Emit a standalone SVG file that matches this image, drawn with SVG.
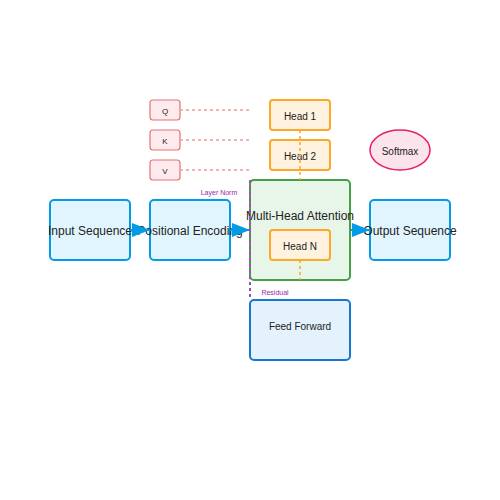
<svg xmlns="http://www.w3.org/2000/svg" width="500" height="500" viewBox="0 0 500 500">
<defs>
<style>
text{font-family:"Liberation Sans",Arial,sans-serif;fill:#222;text-anchor:middle;dominant-baseline:middle}
.io{fill:#e1f5fe;stroke:#039be5;stroke-width:2}
.mha{fill:#e8f5e9;stroke:#43a047;stroke-width:2}
.head{fill:#fff3e0;stroke:#ffa726;stroke-width:2}
.ff{fill:#e3f2fd;stroke:#1976d2;stroke-width:2}
.sm{fill:#fce4ec;stroke:#e91e63;stroke-width:1.5}
.qkv{fill:#ffebee;stroke:#e57373;stroke-width:1.2}
.big{font-size:12px}
.mid{font-size:10px}
.small{font-size:8px}
.lbl{font-size:7px;fill:#9c27b0}
.arr{stroke:#039be5;stroke-width:2;fill:none;marker-end:url(#ah)}
.dq{stroke:#ef9a9a;stroke-width:1.5;stroke-dasharray:3,3;fill:none}
.dh{stroke:#ffa726;stroke-width:1.5;stroke-dasharray:3,3;fill:none}
.dp{stroke:#ab47bc;stroke-width:2;stroke-dasharray:3,3;fill:none}
</style>
<marker id="ah" markerUnits="userSpaceOnUse" markerWidth="18" markerHeight="14" refX="18" refY="7" orient="auto">
<path d="M0,0 L18,7 L0,14 z" fill="#039be5"/>
</marker>
</defs>
<g id="input"><rect class="io" x="50" y="200" width="80" height="60" rx="4"/><text class="big" x="90" y="232">Input Sequence</text></g>
<g id="posenc"><rect class="io" x="150" y="200" width="80" height="60" rx="4"/><text class="big" x="190" y="232">Positional Encoding</text></g>
<g id="mha"><rect class="mha" x="250" y="180" width="100" height="100" rx="4"/><text class="big" x="300" y="217">Multi-Head Attention</text></g>
<g id="head1"><rect class="head" x="270" y="100" width="60" height="30" rx="3"/><text class="mid" x="300" y="117">Head 1</text></g>
<g id="head2"><rect class="head" x="270" y="140" width="60" height="30" rx="3"/><text class="mid" x="300" y="157">Head 2</text></g>
<g id="headn"><rect class="head" x="270" y="230" width="60" height="30" rx="3"/><text class="mid" x="300" y="247">Head N</text></g>
<g id="output"><rect class="io" x="370" y="200" width="80" height="60" rx="4"/><text class="big" x="410" y="232">Output Sequence</text></g>
<g id="ff"><rect class="ff" x="250" y="300" width="100" height="60" rx="4"/><text class="mid" x="300" y="327">Feed Forward</text></g>
<g id="softmax"><ellipse class="sm" cx="400" cy="150" rx="30" ry="20"/><text class="mid" x="400" y="152">Softmax</text></g>
<g id="q"><rect class="qkv" x="150" y="100" width="30" height="20" rx="3"/><text class="small" x="165" y="111.5">Q</text></g>
<g id="k"><rect class="qkv" x="150" y="130" width="30" height="20" rx="3"/><text class="small" x="165" y="141.5">K</text></g>
<g id="v"><rect class="qkv" x="150" y="160" width="30" height="20" rx="3"/><text class="small" x="165" y="171.5">V</text></g>
<g id="connectors">
<line class="arr" x1="130" y1="230" x2="150" y2="230"/>
<line class="arr" x1="230" y1="230" x2="250" y2="230"/>
<line class="arr" x1="350" y1="230" x2="370" y2="230"/>
<line class="dq" x1="180" y1="110" x2="250" y2="110"/>
<line class="dq" x1="180" y1="140" x2="250" y2="140"/>
<line class="dq" x1="180" y1="170" x2="250" y2="170"/>
<line class="dh" x1="300" y1="130" x2="300" y2="180"/>
<line class="dh" x1="300" y1="260" x2="300" y2="280"/>
<line class="dp" x1="250" y1="180" x2="250" y2="300"/>
<text class="lbl" x="219" y="193">Layer Norm</text>
<text class="lbl" x="275" y="293">Residual</text>
</g>
</svg>
